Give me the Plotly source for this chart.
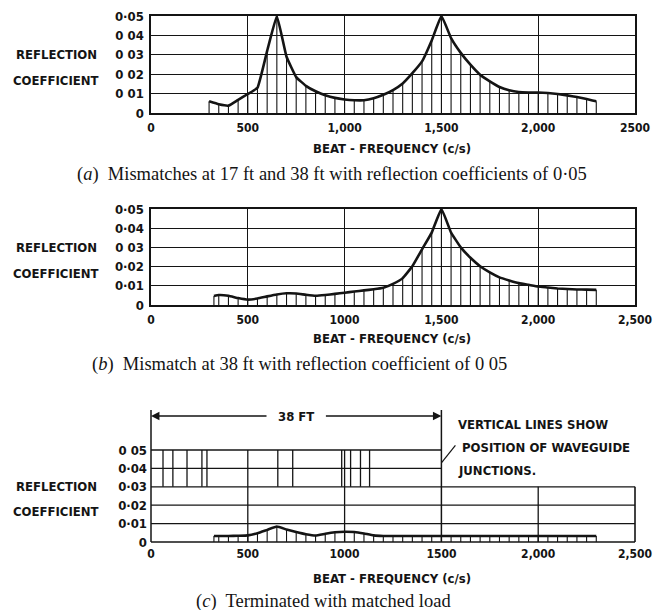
import plotly.graph_objects as go

W, H = 654, 610

# ---------------- data ----------------
freq_a = [300, 350, 400, 450, 500, 550, 600, 650, 700, 750, 800, 850, 900, 950,
          1000, 1050, 1100, 1150, 1200, 1250, 1300, 1350, 1400, 1450, 1500, 1550,
          1600, 1650, 1700, 1750, 1800, 1850, 1900, 1950, 2000, 2050, 2100, 2150,
          2200, 2250, 2300]
refl_a = [0.0060, 0.0045, 0.0038, 0.0068, 0.0098, 0.0130, 0.0320, 0.0500, 0.0290,
          0.0185, 0.0140, 0.0112, 0.0092, 0.0078, 0.0070, 0.0066, 0.0066, 0.0076,
          0.0094, 0.0118, 0.0152, 0.0205, 0.0266, 0.0374, 0.0500, 0.0386, 0.0310,
          0.0249, 0.0197, 0.0163, 0.0134, 0.0117, 0.0108, 0.0106, 0.0106, 0.0103,
          0.0098, 0.0091, 0.0082, 0.0072, 0.0060]

freq_b = [325, 350, 400, 450, 500, 550, 600, 650, 700, 750, 800, 850, 900, 950,
          1000, 1050, 1100, 1150, 1200, 1250, 1300, 1350, 1400, 1450, 1500, 1550,
          1600, 1650, 1700, 1750, 1800, 1850, 1900, 1950, 2000, 2050, 2100, 2150,
          2200, 2250, 2300]
refl_b = [0.0047, 0.0052, 0.0048, 0.0036, 0.0028, 0.0034, 0.0045, 0.0055, 0.0061,
          0.0060, 0.0053, 0.0048, 0.0052, 0.0058, 0.0064, 0.0070, 0.0076, 0.0082,
          0.0090, 0.0110, 0.0140, 0.0202, 0.0290, 0.0377, 0.0500, 0.0377, 0.0300,
          0.0246, 0.0202, 0.0170, 0.0144, 0.0128, 0.0114, 0.0105, 0.0096, 0.0091,
          0.0086, 0.0083, 0.0081, 0.0080, 0.0079]

freq_c = [325, 350, 400, 450, 500, 550, 600, 650, 700, 750, 800, 850, 900, 950,
          1000, 1050, 1100, 1150, 1200, 1250, 1300, 1350, 1400, 1450, 1500, 1550,
          1600, 1650, 1700, 1750, 1800, 1850, 1900, 1950, 2000, 2050, 2100, 2150,
          2200, 2250, 2300]
refl_c = [0.0033, 0.0033, 0.0033, 0.0034, 0.0036, 0.0048, 0.0066, 0.0084, 0.0068,
          0.0054, 0.0042, 0.0035, 0.0045, 0.0053, 0.0056, 0.0054, 0.0046, 0.0036,
          0.0033, 0.0033, 0.0033, 0.0033, 0.0033, 0.0033, 0.0033, 0.0033, 0.0033,
          0.0033, 0.0033, 0.0033, 0.0033, 0.0033, 0.0033, 0.0033, 0.0033, 0.0033,
          0.0033, 0.0033, 0.0033, 0.0033, 0.0033]

# waveguide junction positions (panel c), on the beat-frequency scale
junctions_c = [62, 113, 186, 263, 289, 655, 732, 985, 1031, 1082, 1129]
junction_span = [0.03, 0.05]
dimension_end = 1500          # "38 FT" reference
dimension_label = "38 FT"

ytick_vals = [0, 0.01, 0.02, 0.03, 0.04, 0.05]
ytext_a = ["0", "0 01", "0 02", "0 03", "0 04", "0·05"]
ytext_b = ["0", "0·01", "0·02", "0 03", "0·04", "0·05"]
ytext_c = ["0", "0·01", "0·02", "0·03", "0·04", "0 05"]
xtick_vals = [0, 500, 1000, 1500, 2000, 2500]
xtext_a = ["0", "500", "1,000", "1,500", "2,000", "2500"]
xtext_b = ["0", "500", "1000", "1,500", "2,000", "2,500"]
xtext_c = ["0", "500", "1000", "1500", "2,000", "2,500"]

x_title = "BEAT - FREQUENCY (c/s)"
y_title = ["REFLECTION", "COEFFICIENT"]
caption_a = "(<i>a</i>)  Mismatches at 17 ft and 38 ft with reflection coefficients of 0·05"
caption_b = "(<i>b</i>)  Mismatch at 38 ft with reflection coefficient of 0 05"
caption_c = "(<i>c</i>)  Terminated with matched load"
note_lines = ["VERTICAL LINES SHOW", "POSITION OF WAVEGUIDE", "JUNCTIONS."]

# ---------------- layout geometry (pixels) ----------------
X0, X1 = 151, 635
XMAX = 2500
YMAX = 0.05
panels = {"a": (16, 113), "b": (209, 305), "c": (450, 542)}

INK = "#141414"
BOLD = "DejaVu Sans Condensed, DejaVu Sans, sans-serif"
SERIF = "Liberation Serif, Times New Roman, serif"


def dom_x():
    return [X0 / W, X1 / W]


def dom_y(p):
    top, bot = panels[p]
    return [1 - bot / H, 1 - top / H]


def paper_x(v):
    return (X0 + v / XMAX * (X1 - X0)) / W


def paper_y(p, v):
    top, bot = panels[p]
    return 1 - (bot - v / YMAX * (bot - top)) / H


def stems(freqs, vals):
    xs, ys = [], []
    for f, v in zip(freqs, vals):
        xs += [f, f, None]
        ys += [0, v, None]
    return xs, ys


fig = go.Figure()

for key, fr, rv, xa, ya in [("a", freq_a, refl_a, "x", "y"),
                            ("b", freq_b, refl_b, "x2", "y2"),
                            ("c", freq_c, refl_c, "x3", "y3")]:
    sx, sy = stems(fr, rv)
    fig.add_trace(go.Scatter(x=sx, y=sy, mode="lines", xaxis=xa, yaxis=ya,
                             line=dict(color=INK, width=1.1), hoverinfo="skip",
                             showlegend=False, cliponaxis=False))
    fig.add_trace(go.Scatter(x=fr, y=rv, mode="lines", xaxis=xa, yaxis=ya,
                             line=dict(color=INK, width=2.6, shape="spline", smoothing=0.3),
                             showlegend=False, cliponaxis=False))

# junction markers in panel c
jx, jy = [], []
for j in junctions_c:
    jx += [j, j, None]
    jy += [junction_span[0], junction_span[1], None]
fig.add_trace(go.Scatter(x=jx, y=jy, mode="lines", xaxis="x3", yaxis="y3",
                         line=dict(color=INK, width=1.3), showlegend=False,
                         hoverinfo="skip", cliponaxis=False))

xtickfont = dict(family=BOLD, size=12, color=INK, weight="bold")
ytickfont = dict(family=BOLD, size=13, color=INK, weight="bold")
labfont = dict(family=BOLD, size=13, color=INK, weight="bold")


def xaxis(p, texts, framed):
    d = dict(domain=dom_x(), range=[0, XMAX], tickvals=xtick_vals, ticktext=texts,
             tickfont=xtickfont, ticks="", zeroline=False, fixedrange=True,
             automargin=False,
             anchor={"a": "y", "b": "y2", "c": "y3"}[p], ticklabelstandoff=3)
    if framed:
        d.update(showgrid=True, gridcolor=INK, gridwidth=1.2, showline=True,
                 mirror=True, linecolor=INK, linewidth=1.6)
    else:
        d.update(showgrid=False, showline=False)
    return d


def yaxis(p, texts, framed):
    d = dict(domain=dom_y(p), range=[0, YMAX], tickvals=ytick_vals, ticktext=texts,
             tickfont=ytickfont, ticks="", zeroline=False, fixedrange=True,
             automargin=False,
             anchor={"a": "x", "b": "x2", "c": "x3"}[p], ticklabelstandoff=3)
    if framed:
        d.update(showgrid=True, gridcolor=INK, gridwidth=1.2, showline=True,
                 mirror=True, linecolor=INK, linewidth=1.6)
    else:
        d.update(showgrid=False, showline=False)
    return d


shapes = []


def seg(x0, y0, x1, y1, w=1.3):
    shapes.append(dict(type="line", xref="paper", yref="paper", x0=x0, y0=y0,
                       x1=x1, y1=y1, line=dict(color=INK, width=w)))


# panel c frame and grid (lower full box, upper box up to the 38 ft point)
for gy in [0, 0.01, 0.02, 0.03]:
    seg(paper_x(0), paper_y("c", gy), paper_x(XMAX), paper_y("c", gy),
        1.6 if gy in (0,) else 1.3)
for gy in [0.04, 0.05]:
    seg(paper_x(0), paper_y("c", gy), paper_x(dimension_end), paper_y("c", gy))
for gx in [500, 1000]:
    seg(paper_x(gx), paper_y("c", 0), paper_x(gx), paper_y("c", 0.05))
for gx in [2000, XMAX]:
    seg(paper_x(gx), paper_y("c", 0), paper_x(gx), paper_y("c", 0.03),
        1.6 if gx == XMAX else 1.3)
arrow_y = 1 - 416 / H
ext_top = 1 - 410 / H
for gx in [0, dimension_end]:
    seg(paper_x(gx), paper_y("c", 0), paper_x(gx), ext_top, 1.5)
# leader from note to the 1500 junction line
seg(paper_x(dimension_end), paper_y("c", 0.043), paper_x(dimension_end) + 14 / W,
    paper_y("c", 0.0525), 1.2)

annotations = []
# dimension arrows
mid = dimension_end / 2
for head, off in [(0, 117), (dimension_end, -117)]:
    annotations.append(dict(x=paper_x(head), y=arrow_y, xref="paper", yref="paper",
                            ax=off, ay=0, text="", showarrow=True, arrowhead=2,
                            arrowsize=1.3, arrowwidth=1.3, arrowcolor=INK))
annotations.append(dict(x=paper_x(mid), y=arrow_y, xref="paper", yref="paper",
                        xanchor="center", yanchor="middle", text=dimension_label,
                        showarrow=False, font=labfont))
for i, t in enumerate(note_lines):
    annotations.append(dict(x=456 / W + (4 / W if i == 1 else 0), y=1 - (424 + 23 * i) / H,
                            xref="paper", yref="paper", xanchor="left", yanchor="middle",
                            text=t, showarrow=False, font=labfont))

for p in ["a", "b", "c"]:
    # y titles
    annotations.append(dict(x=56 / W, y=paper_y(p, 0.030), xref="paper", yref="paper",
                            xanchor="center", yanchor="middle", text=y_title[0],
                            showarrow=False, font=labfont))
    annotations.append(dict(x=56 / W, y=paper_y(p, 0.0165), xref="paper", yref="paper",
                            xanchor="center", yanchor="middle", text=y_title[1],
                            showarrow=False, font=labfont))

for ty in [148, 338, 578]:
    annotations.append(dict(x=392 / W, y=1 - ty / H, xref="paper", yref="paper",
                            xanchor="center", yanchor="middle", text=x_title,
                            showarrow=False, font=labfont))

for cap, cx, cy in [(caption_a, 75, 174), (caption_b, 90, 364), (caption_c, 194, 601)]:
    annotations.append(dict(x=cx / W, y=1 - cy / H, xref="paper", yref="paper",
                            xanchor="left", yanchor="middle", text=cap, showarrow=False,
                            font=dict(family=SERIF, size=18.5, color=INK)))

fig.update_layout(
    width=W, height=H, margin=dict(l=0, r=0, t=0, b=0),
    paper_bgcolor="white", plot_bgcolor="white", showlegend=False,
    xaxis=xaxis("a", xtext_a, True), yaxis=yaxis("a", ytext_a, True),
    xaxis2=xaxis("b", xtext_b, True), yaxis2=yaxis("b", ytext_b, True),
    xaxis3=xaxis("c", xtext_c, False), yaxis3=yaxis("c", ytext_c, False),
    shapes=shapes, annotations=annotations,
)

fig.write_html("out.html", config={"displayModeBar": False, "staticPlot": True},
               post_script="document.body.style.margin='0';"
                           "document.body.style.overflow='hidden';")
